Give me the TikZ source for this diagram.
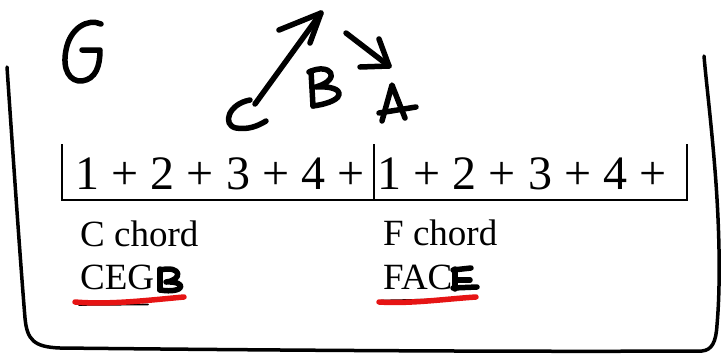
\documentclass[tikz,border=0pt]{standalone}
\usepackage{fontspec}
\setmainfont{Liberation Serif}
\definecolor{brushred}{RGB}{230,20,20}
\begin{document}
\begin{tikzpicture}[x=1pt,y=-1pt,
  ink/.style={line width=5.5pt,line cap=round,line join=round},
  border/.style={line width=3.5pt,line cap=round,line join=round},
  bar/.style={line width=1.6pt},
  meas/.style={anchor=base west,inner sep=0pt,font=\fontsize{48}{52}\selectfont},
  lab/.style={anchor=base west,inner sep=0pt,font=\fontsize{37}{40}\selectfont},
  brush/.style={draw=brushred,line width=5.5pt,line cap=round},
  thinline/.style={line width=1.6pt,line cap=round}]
\useasboundingbox (0,0) rectangle (724,354);
% hand-drawn frame
\draw[border] (7,67) .. controls (14,170) and (21,270) .. (25,318)
  .. controls (27,340) and (34,347) .. (60,348)
  .. controls (250,350) and (500,352) .. (702,351)
  .. controls (712,350) and (716,342) .. (717,325)
  .. controls (721,280) and (719,220) .. (715,170)
  .. controls (711,120) and (706,80) .. (704,56);
% handwritten G
\draw[ink] (101,24) .. controls (88,18) and (70,28) .. (66,50)
  .. controls (62,70) and (70,82) .. (82,81)
  .. controls (96,79) and (100,66) .. (100,50) -- (82,50);
% handwritten C
\coordinate (cTop) at (250,100);
\draw[ink] (cTop) .. controls (228,104) and (222,125) .. (236,128)
  .. controls (248,130) and (258,126) .. (266,121);
% arrow from C upward
\coordinate (a1s) at (255,104);
\coordinate (a1e) at (321,13);
\draw[ink] (a1s) -- (a1e);
\draw[ink] (279,30) -- (a1e) -- (310,43);
% handwritten B
\draw[ink] (311,71) -- (313,106);
\draw[ink] (309,72) .. controls (330,62) and (343,79) .. (316,87)
  .. controls (346,85) and (349,101) .. (313,106);
% arrow from B toward A
\coordinate (a2s) at (346,33);
\coordinate (a2e) at (389,66);
\draw[ink] (a2s) -- (a2e);
\draw[ink] (379,39) -- (a2e) -- (360,67);
% handwritten A
\draw[ink] (382,121) -- (392,85) -- (405,118);
\draw[ink] (379,113) -- (416,107);
% measure
\coordinate (bl) at (62,144);
\coordinate (blb) at (62,200);
\coordinate (bm) at (374,144);
\coordinate (bmb) at (374,200);
\coordinate (br) at (687,144);
\coordinate (brb) at (687,200);
\draw[bar] (bl) -- (blb) -- (brb) -- (br);
\draw[bar] (bm) -- (bmb);
\node[meas] (m1) at (75.7,189) {1 + 2 + 3 + 4 +};
\node[meas] (m2) at (377.7,189) {1 + 2 + 3 + 4 +};
% chord labels
\node[lab] (cc) at (80,246) {C chord};
\node[lab] (cn) at (80,289) {CEG};
\node[lab] (fc) at (383,245) {F chord};
\node[lab] (fn) at (383,289) {FAC};
% handwritten bold B after CEG
\draw[ink] (160,269) -- (160,290);
\draw[ink] (160,270) .. controls (182,265) and (183,280) .. (166,282)
  .. controls (188,281) and (185,294) .. (160,290);
% handwritten E after FAC
\draw[ink] (455,269) -- (455,289);
\draw[ink] (453,270) -- (471,268);
\draw[ink] (457,280) -- (470,280);
\draw[ink] (453,288) -- (477,287);
% underlines
\draw[thinline] (79,305) -- (148,304.5);
\draw[brush] (75,302) .. controls (110,305) and (150,300) .. (184,297);
\draw[thinline] (381,300.5) -- (452,299);
\draw[brush] (379,302) .. controls (410,304) and (445,299) .. (476,297);
\end{tikzpicture}
\end{document}
